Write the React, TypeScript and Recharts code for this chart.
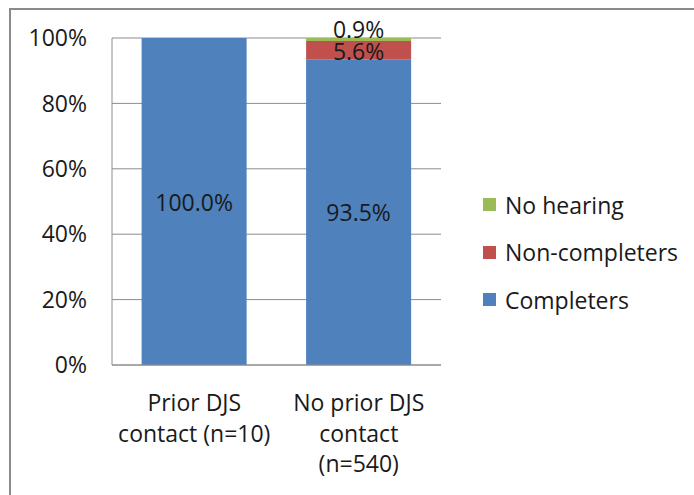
import React from 'react';
import { BarChart, Bar, XAxis, YAxis, CartesianGrid, LabelList } from 'recharts';

const categories = ['Prior DJS\ncontact (n=10)', 'No prior DJS\ncontact\n(n=540)'];
const completers = [100.0, 93.5];
const nonCompleters = [0, 5.6];
const noHearing = [0, 0.9];
const yTicks = [0, 20, 40, 60, 80, 100];

const FONT = '"Open Sans", sans-serif';
const TEXT = '#1a1a1a';
const FS = 23;

const data = categories.map((name, i) => ({
  name,
  completers: completers[i],
  nonCompleters: nonCompleters[i],
  noHearing: noHearing[i],
}));

// bottom to top in the stack
const series = [
  { key: 'completers', name: 'Completers', color: '#4F81BD', labelDy: 0 },
  { key: 'nonCompleters', name: 'Non-completers', color: '#C0504D', labelDy: 1 },
  { key: 'noHearing', name: 'No hearing', color: '#9BBB59', labelDy: -10 },
];

const makeLabel = (dy: number) => (props: any) => {
  const { x, y, width, height, value } = props;
  if (!value) return null;
  return (
    <text
      x={x + width / 2}
      y={y + height / 2 + dy}
      textAnchor="middle"
      dominantBaseline="central"
      fill={TEXT}
      fontSize={FS}
      fontFamily={FONT}
    >
      {value.toFixed(1)}%
    </text>
  );
};

const CategoryTick = ({ x, y, payload }: any) => {
  const lines = String(payload.value).split('\n');
  return (
    <g>
      {lines.map((line, i) => (
        <text
          key={i}
          x={x}
          y={y + 29 + i * 30.5}
          textAnchor="middle"
          dominantBaseline="central"
          fill={TEXT}
          fontSize={FS}
          fontFamily={FONT}
        >
          {line}
        </text>
      ))}
    </g>
  );
};

export default function App() {
  return (
    <div style={{ position: 'absolute', left: 0, top: 0, width: 694, height: 495, overflow: 'hidden', background: '#fff' }}>
      <div
        style={{
          position: 'absolute',
          left: 9,
          top: 8,
          width: 720,
          height: 520,
          borderLeft: '2px solid #8a8a8a',
          borderTop: '2px solid #8a8a8a',
        }}
      />
      <BarChart
        width={694}
        height={495}
        data={data}
        margin={{ top: 38, right: 253, bottom: 100, left: 12 }}
        barCategoryGap="18%"
        style={{ position: 'absolute', left: 0, top: 0 }}
      >
        <CartesianGrid vertical={false} stroke="#8c8c8c" />
        <XAxis
          dataKey="name"
          height={30}
          axisLine={{ stroke: '#8c8c8c' }}
          tickLine={false}
          tick={<CategoryTick />}
          interval={0}
        />
        <YAxis
          width={100}
          domain={[0, 100]}
          ticks={yTicks}
          tickFormatter={(v: number) => `${v}%`}
          axisLine={{ stroke: '#8c8c8c' }}
          tickLine={false}
          tickSize={0}
          tickMargin={25}
          tick={{ fill: TEXT, fontSize: FS, fontFamily: FONT }}
        />
        {series.map((s) => (
          <Bar key={s.key} dataKey={s.key} name={s.name} stackId="a" fill={s.color} isAnimationActive={false}>
            <LabelList dataKey={s.key} content={makeLabel(s.labelDy)} />
          </Bar>
        ))}
      </BarChart>
      <div style={{ position: 'absolute', left: 483, top: 189, fontFamily: FONT, fontSize: FS, color: TEXT }}>
        {[...series].reverse().map((s) => (
          <div key={s.key} style={{ display: 'flex', alignItems: 'center', height: 31, marginBottom: 16.5 }}>
            <span style={{ width: 13, height: 13, background: s.color, marginRight: 9 }} />
            <span>{s.name}</span>
          </div>
        ))}
      </div>
    </div>
  );
}
